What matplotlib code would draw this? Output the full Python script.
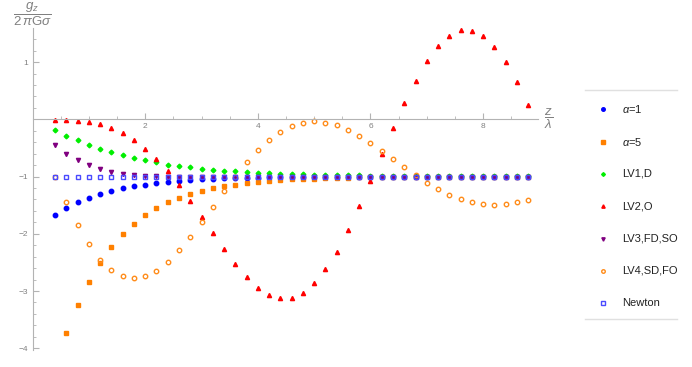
import matplotlib
matplotlib.use('Agg')
import matplotlib.pyplot as plt
from matplotlib.lines import Line2D
import numpy as np

plt.rcParams['font.family'] = ['Liberation Sans', 'DejaVu Sans']
plt.rcParams['mathtext.fontset'] = 'custom'
plt.rcParams['mathtext.rm'] = 'Liberation Sans'
plt.rcParams['mathtext.it'] = 'Liberation Sans:italic'

# z/lambda sample points 0.4 .. 8.8
z = np.round(np.arange(0.4, 8.81, 0.2), 1)

alpha1 = [-1.67, -1.55, -1.45, -1.37, -1.30, -1.25, -1.20, -1.17, -1.14, -1.11,
          -1.09, -1.07, -1.06, -1.05, -1.04, -1.03, -1.03, -1.02, -1.02, -1.015,
          -1.01, -1.01, -1.01, -1.01, -1.005, -1.005, -1.0, -1.0, -1.0, -1.0,
          -1.0, -1.0, -1.0, -1.0, -1.0, -1.0, -1.0, -1.0, -1.0, -1.0,
          -1.0, -1.0, -1.0]
# alpha=5 starts at 0.6 (0.4 is below the plot range)
alpha5 = [-3.74, -3.25, -2.84, -2.51, -2.23, -2.01, -1.83, -1.68, -1.55,
          -1.45, -1.37, -1.30, -1.25, -1.20, -1.17, -1.14, -1.11, -1.09, -1.075,
          -1.06, -1.05, -1.04, -1.034, -1.028, -1.023, -1.018, -1.015, -1.012, -1.010,
          -1.008, -1.007, -1.006, -1.005, -1.0, -1.0, -1.0, -1.0, -1.0, -1.0,
          -1.0, -1.0, -1.0]
lv1 = [-0.19, -0.29, -0.36, -0.44, -0.51, -0.57, -0.62, -0.67, -0.71, -0.75,
       -0.79, -0.82, -0.84, -0.86, -0.88, -0.90, -0.91, -0.92, -0.93, -0.94,
       -0.95, -0.955, -0.96, -0.965, -0.97, -0.975, -0.98, -0.98, -0.985, -0.985,
       -0.99, -0.99, -0.99, -0.99, -0.995, -0.995, -0.995, -0.995, -0.995, -0.995,
       -0.995, -0.995, -0.995]
lv2 = [-0.01, -0.02, -0.03, -0.05, -0.09, -0.15, -0.24, -0.36, -0.51, -0.69,
       -0.91, -1.15, -1.42, -1.71, -1.99, -2.27, -2.53, -2.76, -2.94, -3.07,
       -3.13, -3.12, -3.03, -2.86, -2.62, -2.31, -1.94, -1.52, -1.07, -0.61,
       -0.15, 0.285, 0.675, 1.01, 1.28, 1.46, 1.56, 1.55, 1.46, 1.26,
       1.00, 0.65, 0.25]
lv3 = [-0.45, -0.60, -0.71, -0.80, -0.86, -0.92, -0.95, -0.97, -0.99, -0.995,
       -1.0, -1.0, -1.0, -1.0, -1.0, -1.0, -1.0, -1.0, -1.0, -1.0,
       -1.0, -1.0, -1.0, -1.0, -1.0, -1.0, -1.0, -1.0, -1.0, -1.0,
       -1.0, -1.0, -1.0, -1.0, -1.0, -1.0, -1.0, -1.0, -1.0, -1.0,
       -1.0, -1.0, -1.0]
lv4 = [-1.0, -1.44, -1.84, -2.17, -2.46, -2.63, -2.74, -2.78, -2.74, -2.65,
       -2.49, -2.29, -2.06, -1.80, -1.53, -1.26, -1.0, -0.75, -0.54, -0.37,
       -0.22, -0.12, -0.06, -0.035, -0.06, -0.105, -0.19, -0.29, -0.41, -0.55,
       -0.70, -0.84, -0.97, -1.11, -1.21, -1.32, -1.39, -1.45, -1.48, -1.49,
       -1.48, -1.45, -1.41]
newton = [-1.0] * 43

labels = [r'$\alpha$=1', r'$\alpha$=5', 'LV1,D', 'LV2,O', 'LV3,FD,SO', 'LV4,SD,FO', 'Newton']
series = [(z, alpha1), (z[1:], alpha5), (z, lv1), (z, lv2), (z, lv3), (z, lv4), (z, newton)]
styles = [
    dict(marker='o', color='#0000ff', ms=3.2),
    dict(marker='s', color='#ff8000', ms=3.0),
    dict(marker='D', color='#00ee00', ms=2.4),
    dict(marker='^', color='#ff0000', ms=3.0),
    dict(marker='v', color='#800080', ms=3.0),
    dict(marker='o', color='#ff8c1a', ms=3.2, mfc='none', mew=1.0),
    dict(marker='s', color='#4a4aff', ms=3.2, mfc='none', mew=1.0),
]

fig = plt.figure(figsize=(6.92, 3.67), dpi=100)
ax = fig.add_axes([0.0471, 0.0463, 0.7308, 0.8766])

for (xs, ys), st in zip(series, styles):
    ax.plot(xs, ys, ls='none', **st)

ax.set_xlim(0, 8.98)
ax.set_ylim(-4.03, 1.59)

gray = '#b3b3b3'
for s in ['top', 'right']:
    ax.spines[s].set_visible(False)
ax.spines['left'].set_position(('data', 0))
ax.spines['bottom'].set_position(('data', 0))
ax.spines['left'].set_color(gray)
ax.spines['bottom'].set_color(gray)

ax.set_xticks([2, 4, 6, 8])
ax.set_xticks(np.arange(0.5, 9, 0.5), minor=True)
ax.set_yticks([-4, -3, -2, -1, 1])
ax.set_yticks(np.arange(-4, 1.6, 0.2), minor=True)
ax.tick_params(which='both', direction='in', color=gray, labelcolor='#808080', labelsize=6, pad=3)
ax.tick_params(which='major', length=4, width=0.8)
ax.tick_params(which='minor', length=2.5, width=0.6)

# axis labels in Mathematica style (fractions at the axis ends)
fig.text(32 / 692, 1 - 14 / 367, r'$\dfrac{g_z}{2\,\pi\mathrm{G}\sigma}$', color='#808080',
         fontsize=9.5, ha='center', va='center')
fig.text(549 / 692, 1 - 119 / 367, r'$\dfrac{z}{\lambda}$', color='#808080',
         fontsize=9.5, ha='center', va='center')

# legend drawn by hand
leg_top = 1 - 90 / 367
leg_bot = 1 - 319 / 367
fig.add_artist(Line2D([585 / 692, 677 / 692], [leg_top, leg_top], color='#e0e0e0', lw=1))
fig.add_artist(Line2D([585 / 692, 677 / 692], [leg_bot, leg_bot], color='#e0e0e0', lw=1))
for i, (lab, st) in enumerate(zip(labels, styles)):
    yy = 1 - (109.3 + 32.3 * i) / 367
    st2 = dict(st)
    st2['ms'] = st['ms'] * 0.8
    fig.add_artist(Line2D([603 / 692], [yy], ls='none', **st2))
    fig.text(622 / 692, yy, lab, fontsize=8, color='#222222', ha='left', va='center')

fig.savefig('out.png', dpi=100)
